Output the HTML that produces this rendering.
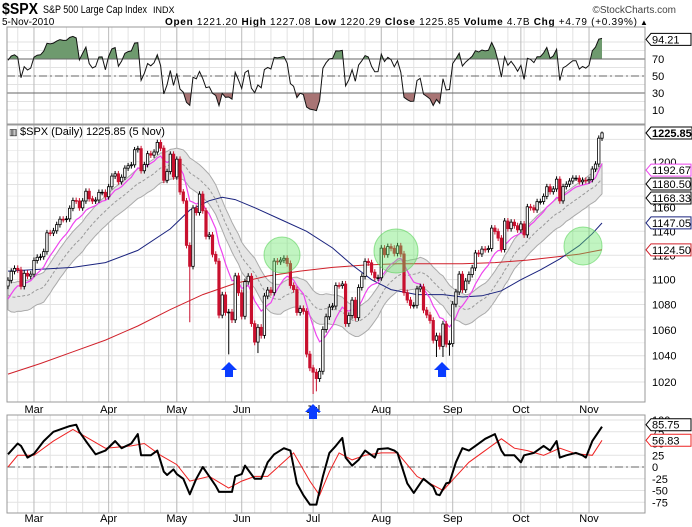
<!DOCTYPE html>
<html><head><meta charset="utf-8">
<style>
html,body{margin:0;padding:0;background:#fff;}
svg{display:block;font-family:"Liberation Sans",sans-serif;}
</style></head>
<body>
<svg id="chart" width="692" height="527" viewBox="0 0 692 527" xmlns="http://www.w3.org/2000/svg">
  <g>
    <text x="2" y="14" font-size="16" font-weight="bold" textLength="36" lengthAdjust="spacingAndGlyphs">$SPX</text>
    <text x="43" y="13" font-size="11" textLength="104" lengthAdjust="spacingAndGlyphs">S&amp;P 500 Large Cap Index</text>
    <text x="153" y="13" font-size="9">INDX</text>
    <text x="676" y="13" font-size="10" fill="#444" text-anchor="end">©StockCharts.com</text>
    <text x="2" y="25" font-size="10">5-Nov-2010</text>
    <text x="165" y="25" font-size="10" textLength="472" lengthAdjust="spacing"><tspan font-weight="bold">Open</tspan> 1221.20 <tspan font-weight="bold">High</tspan> 1227.08 <tspan font-weight="bold">Low</tspan> 1220.29 <tspan font-weight="bold">Close</tspan> 1225.85 <tspan font-weight="bold">Volume</tspan> 4.7B <tspan font-weight="bold">Chg</tspan> +4.79 (+0.39%)</text>
    <text x="640" y="25" font-size="8">▲</text>
  </g>
  <g id="rsiG"></g>
  <g id="mainG"></g>
  <g id="lowG"></g>
</svg>
<script>
// ---------- DATA ----------
const warmCloses = [1150.2,1138.0,1116.5,1091.8,1096.8,1092.2,1097.5,1084.5,1073.9,1089.2,1103.3,1097.3,1063.1,1066.2,1056.7,1070.5,1068.1,1078.5,1075.5,1094.9];
const monthDays = [
  ["2010-02",[17,18,19,22,23,24,25,26]],
  ["2010-03",[1,2,3,4,5,8,9,10,11,12,15,16,17,18,19,22,23,24,25,26,29,30,31]],
  ["2010-04",[1,5,6,7,8,9,12,13,14,15,16,19,20,21,22,23,26,27,28,29,30]],
  ["2010-05",[3,4,5,6,7,10,11,12,13,14,17,18,19,20,21,24,25,26,27,28]],
  ["2010-06",[1,2,3,4,7,8,9,10,11,14,15,16,17,18,21,22,23,24,25,28,29,30]],
  ["2010-07",[1,2,6,7,8,9,12,13,14,15,16,19,20,21,22,23,26,27,28,29,30]],
  ["2010-08",[2,3,4,5,6,9,10,11,12,13,16,17,18,19,20,23,24,25,26,27,30,31]],
  ["2010-09",[1,2,3,7,8,9,10,13,14,15,16,17,20,21,22,23,24,27,28,29,30]],
  ["2010-10",[1,4,5,6,7,8,11,12,13,14,15,18,19,20,21,22,25,26,27,28,29]],
  ["2010-11",[1,2,3,4,5]]
];
const closes = [1099.5,1106.8,1109.2,1108.0,1094.6,1105.2,1102.9,1104.5,
 1115.7,1118.3,1118.8,1123.0,1138.7,1138.5,1140.4,1145.6,1150.2,1150.0,1150.5,1159.5,1166.2,1165.8,1159.9,1165.8,1174.2,1167.7,1165.7,1166.6,1173.2,1173.3,1169.4,
 1178.1,1187.4,1189.4,1182.4,1186.4,1194.4,1196.5,1197.3,1210.7,1211.7,1192.1,1197.5,1207.2,1205.9,1208.7,1217.3,1212.1,1183.7,1191.4,1206.8,1186.7,
 1202.3,1173.6,1165.9,1128.2,1110.9,1159.7,1155.8,1171.7,1157.4,1135.7,1136.9,1120.8,1115.1,1071.6,1087.7,1073.7,1074.0,1067.9,1103.1,1089.4,
 1070.7,1098.4,1102.8,1064.9,1050.5,1062.0,1055.7,1086.8,1091.6,1089.6,1115.2,1114.6,1116.0,1117.5,1113.2,1095.3,1092.0,1073.7,1076.8,1074.6,1041.2,1030.7,
 1027.4,1022.6,1028.1,1060.3,1070.3,1078.0,1078.8,1095.3,1095.2,1096.5,1064.9,1071.3,1083.5,1069.6,1093.7,1102.7,1115.0,1113.8,1106.1,1101.5,1101.6,
 1125.9,1120.5,1127.2,1125.8,1121.6,1127.8,1121.1,1089.5,1083.6,1079.3,1079.4,1092.5,1094.2,1075.6,1071.7,1067.4,1051.9,1055.3,1047.2,1064.6,1048.9,1049.3,
 1080.3,1090.1,1104.5,1091.8,1098.9,1104.2,1109.6,1121.9,1121.1,1125.1,1124.7,1125.6,1142.7,1139.8,1134.3,1124.8,1148.7,1142.2,1147.7,1144.7,1141.2,
 1146.2,1137.0,1160.8,1160.0,1158.1,1165.2,1165.3,1169.8,1178.1,1173.8,1176.2,1184.7,1165.9,1178.2,1180.3,1183.1,1185.6,1185.6,1182.4,1183.8,1183.3,
 1184.4,1193.6,1198.0,1221.1,1225.85];
const wickLows = [[56,1066],[68,1041],[77,1042],[94,1011],[95,1013],[132,1039],[134,1039],[136,1040]];
const wickHighs = [[94,1033],[183,1227.1]];
const sma50 = [[0,1107],[20,1110],[30,1114],[40,1124],[50,1142],[56,1158],[62,1166],[66,1169],[70,1167],[76,1160],[84,1150],[92,1140],[100,1126],[106,1112],[112,1100],[118,1092],[126,1088],[134,1088],[140,1086],[146,1087],[152,1091],[158,1100],[164,1108],[170,1117],[176,1128],[180,1138],[183,1147]];
const sma200 = [[0,1026],[10,1034],[20,1043],[30,1052],[40,1063],[50,1076],[60,1088],[70,1097],[80,1103],[90,1107],[100,1110],[110,1112],[120,1113],[130,1113],[140,1113],[150,1114],[160,1116],[170,1119],[176,1121],[183,1124.5]];
const oscLine = [[0,27],[3,50],[4,45],[6,20],[8,28],[11,55],[14,75],[19,87],[21,90],[22,75],[24,55],[27,27],[30,35],[33,55],[35,40],[38,50],[40,70],[41,25],[44,25],[46,35],[48,-10],[49,-17],[51,-5],[52,-15],[54,-25],[56,-58],[58,-25],[60,0],[62,-20],[64,-40],[65,-53],[69,-53],[70,-20],[72,-15],[73,3],[76,-25],[78,-25],[80,10],[82,27],[85,40],[87,35],[89,-35],[91,-60],[93,-80],[95,-80],[97,-20],[99,30],[101,45],[103,62],[104,20],[106,3],[108,15],[110,35],[113,20],[114,38],[117,40],[119,35],[120,30],[123,-35],[125,-55],[127,-35],[128,-25],[131,-42],[132,-58],[133,-60],[135,-35],[136,-33],[138,10],[140,40],[142,35],[144,45],[147,60],[150,70],[152,35],[153,25],[156,25],[158,10],[159,25],[162,30],[165,45],[167,35],[169,55],[170,20],[172,25],[175,30],[177,25],[178,20],[180,55],[183,85.75]];
const oscSignal = [[0,0],[3,25],[8,25],[14,55],[20,80],[25,60],[30,40],[38,45],[42,50],[47,25],[52,5],[56,-30],[62,-20],[68,-45],[72,-30],[76,-20],[80,-20],[88,30],[93,-30],[96,-60],[99,-10],[102,30],[106,15],[110,25],[115,30],[120,30],[126,-20],[130,-35],[134,-50],[138,-20],[142,10],[148,40],[152,60],[156,40],[160,35],[165,25],[170,40],[175,28],[180,25],[183,56.83]];
const priceTicks = [1020,1040,1060,1080,1100,1120,1140,1160,1180,1200,1220];
const rsiTicks = [10,30,50,70,90];
const oscTicks = [-75,-50,-25,0,25,50,75,100];
const monthNames = ["Mar","Apr","May","Jun","Jul","Aug","Sep","Oct","Nov"];
const RSI_N = 5;

// ---------- GEOMETRY ----------
const NS="http://www.w3.org/2000/svg";
const L=7,R=645;
const X0=8,DX=3.246;
function xi(i){return X0+i*DX;}
const MT=125,MB=402;
function py(v){return 382-1355*Math.log(v/1020);}
const RT=27,RB=124;
function ry(v){return 118.5-0.85*v;}
const OT=415,OB=513;
function oy(v){return 467-0.47*v;}
function el(tag,attrs,parent){const e=document.createElementNS(NS,tag);for(const k in attrs)e.setAttribute(k,attrs[k]);parent.appendChild(e);return e;}
function txt(s,x,y,attrs,parent){const t=el('text',Object.assign({x:x,y:y},attrs),parent);t.textContent=s;return t;}
function knotPath(arr,fx,fy){return arr.map((p,k)=>(k?'L':'M')+fx(p[0]).toFixed(1)+','+fy(p[1]).toFixed(1)).join(' ');}

const dates=[];monthDays.forEach(m=>m[1].forEach(d=>dates.push(m[0]+'-'+String(d).padStart(2,'0'))));
const monthStart=[],mondays=[];
dates.forEach((d,i)=>{const dt=new Date(d+'T12:00:00Z');if(i>0&&d.slice(5,7)!==dates[i-1].slice(5,7))monthStart.push(i);if(dt.getUTCDay()===1)mondays.push(i);});

function vgrid(g,top,bot){
  mondays.forEach(i=>{const l=el('line',{x1:xi(i),x2:xi(i),y1:top,y2:bot,stroke:'#e2e2e2','stroke-width':1},g);
    });
  monthStart.forEach(i=>{const l=el('line',{x1:xi(i),x2:xi(i),y1:top,y2:bot,stroke:'#bbb','stroke-width':1},g);
    });
}
function tag(g,label,y,color,bold,name){
  const w=bold?41:40;const p=el('polygon',{points:`646,${y} 651,${y-6} ${651+w},${y-6} ${651+w},${y+6} 651,${y+6}`,fill:'#fff',stroke:color,'stroke-width':1},g);
  
  const t=txt(label,652,y+4,{'font-size':11,'font-weight':bold?'bold':'normal',fill:'#000'},g);
  
}

const all=warmCloses.concat(closes);const W0=warmCloses.length;

// ---------- RSI PANEL ----------
(function(){
  const g=document.getElementById('rsiG');
  for(let v=10;v<=90;v+=10){const l=el('line',{x1:L,x2:R,y1:ry(v),y2:ry(v),stroke:'#e2e2e2'},g);}
  vgrid(g,RT,RB);
  let ag=0,al=0;const rsi=[];const N=RSI_N;
  for(let i=1;i<all.length;i++){const d=all[i]-all[i-1];const gn=Math.max(d,0),ls=Math.max(-d,0);
    if(i<=N){ag+=gn/N;al+=ls/N;}else{ag=(ag*(N-1)+gn)/N;al=(al*(N-1)+ls)/N;}
    if(i>=W0)rsi.push(100-100/(1+ag/(al||1e-9)));}
  const pts=rsi.map((v,i)=>[xi(i),ry(v)]);
  const dLine='M'+pts.map(p=>p[0].toFixed(1)+','+p[1].toFixed(1)).join(' L');
  const defs=el('defs',{},g);
  const c1=el('clipPath',{id:'above70'},defs);el('rect',{x:L,y:RT,width:R-L,height:ry(70)-RT},c1);
  const c2=el('clipPath',{id:'below30'},defs);el('rect',{x:L,y:ry(30),width:R-L,height:RB-ry(30)},c2);
  const a1=el('path',{d:dLine+` L${pts[pts.length-1][0]},${ry(70)} L${pts[0][0]},${ry(70)} Z`,fill:'#6e9a6e','clip-path':'url(#above70)'},g);
  
  const a2=el('path',{d:dLine+` L${pts[pts.length-1][0]},${ry(30)} L${pts[0][0]},${ry(30)} Z`,fill:'#a87474','clip-path':'url(#below30)'},g);
  
  [[70,'none'],[30,'none'],[50,'8,3,2,3']].forEach(a=>{const l=el('line',{x1:L,x2:R,y1:ry(a[0]),y2:ry(a[0]),stroke:'#666','stroke-width':1,'stroke-dasharray':a[1]},g);
    });
  const ln=el('path',{d:dLine,fill:'none',stroke:'#111','stroke-width':1},g);
  
  const b=el('rect',{x:L,y:RT,width:R-L,height:RB-RT,fill:'none',stroke:'#999'},g);
  
  rsiTicks.forEach(v=>{if(v===90)return;const t=txt(String(v),652,ry(v)+4,{'font-size':11},g);});
  tag(g,'94.21',ry(94.21)+1,'#000',false,'rsi-last');
})();

// ---------- PRICE PANEL ----------
(function(){
  const g=document.getElementById('mainG');
  priceTicks.forEach(v=>{const l=el('line',{x1:L,x2:R,y1:py(v),y2:py(v),stroke:'#e2e2e2'},g);});
  for(let v=1030;v<1230;v+=20){const l=el('line',{x1:L,x2:R,y1:py(v),y2:py(v),stroke:'#efefef'},g);}
  vgrid(g,MT,MB);
  const mid=[],up=[],dn=[];
  for(let i=0;i<closes.length;i++){let s=0;for(let k=0;k<20;k++)s+=all[W0+i-k];const m=s/20;mid.push(m);up.push(m*1.011);dn.push(m*0.989);}
  const upPts=up.map((v,i)=>xi(i).toFixed(1)+','+py(v).toFixed(1));
  const dnPts=dn.map((v,i)=>xi(i).toFixed(1)+','+py(v).toFixed(1)).reverse();
  const band=el('polygon',{points:upPts.concat(dnPts).join(' '),fill:'#e6e6e6',stroke:'#aaa','stroke-width':1},g);
  
  const md=el('polyline',{points:mid.map((v,i)=>xi(i).toFixed(1)+','+py(v).toFixed(1)).join(' '),fill:'none',stroke:'#999','stroke-dasharray':'3,2'},g);
  
  const s2=el('path',{d:knotPath(sma200,xi,py),fill:'none',stroke:'#d0202a','stroke-width':1},g);
  
  const s5=el('path',{d:knotPath(sma50,xi,py),fill:'none',stroke:'#1a237e','stroke-width':1},g);
  
  let e=all[0];const ema=[];const k=2/11;
  for(let i=1;i<all.length;i++){e=all[i]*k+e*(1-k);if(i>=W0)ema.push(e);}
  const em=el('polyline',{points:ema.map((v,i)=>xi(i).toFixed(1)+','+py(v).toFixed(1)).join(' '),fill:'none',stroke:'#ee44ee','stroke-width':1.2},g);
  
  const lowMap={},highMap={};wickLows.forEach(p=>lowMap[p[0]]=p[1]);wickHighs.forEach(p=>highMap[p[0]]=p[1]);
  for(let i=0;i<closes.length;i++){
    const o=all[W0+i-1],c=closes[i];const upc=c>=o;
    const hi=highMap[i]!==undefined?highMap[i]:Math.max(o,c)+2.5;
    const lo=lowMap[i]!==undefined?lowMap[i]:Math.min(o,c)-2.5;
    const col=upc?'#000':'#c8102e';const x=xi(i);
    const cg=el('g',{},g);
    
    
    el('line',{x1:x,x2:x,y1:py(hi),y2:py(lo),stroke:col,'stroke-width':1},cg);
    const top=py(Math.max(o,c)),bot=py(Math.min(o,c));
    el('rect',{x:x-1.2,y:top,width:2.4,height:Math.max(bot-top,0.8),fill:upc?'#fff':col,stroke:col,'stroke-width':0.8},cg);
  }
  [[282,255,18],[396,251,22],[583,246,19]].forEach(c=>{const ci=el('circle',{cx:c[0],cy:c[1],r:c[2],fill:'rgba(100,230,100,0.4)',stroke:'rgba(90,210,90,0.6)'},g);
    });
  [[229,370],[313,412],[442,370]].forEach(a=>{const x=a[0],y=a[1];
    const ar=el('polygon',{points:`${x},${y-8} ${x+8},${y} ${x+4},${y} ${x+4},${y+7} ${x-4},${y+7} ${x-4},${y} ${x-8},${y}`,fill:'#0a3cff'},document.getElementById('chart'));
    });
  const b=el('rect',{x:L,y:MT,width:R-L,height:MB-MT,fill:'none',stroke:'#999'},g);
  
  priceTicks.forEach(v=>{if(v===1220)return;const t=txt(String(v),652,py(v)+4,{'font-size':11},g);});
  const lab=txt('$SPX (Daily) 1225.85 (5 Nov)',20,135,{'font-size':11},g);
  const ic=txt('▥',9,135,{'font-size':9},g);
  tag(g,'1124.50',py(1124.5),'#d0202a',false,'sma200');
  tag(g,'1147.05',py(1147.05),'#1a237e',false,'sma50');
  tag(g,'1168.33',py(1168.33),'#000',false,'sma20');
  tag(g,'1180.50',py(1180.5),'#000',false,'upper-band');
  tag(g,'1192.67',py(1192.67),'#ee44ee',false,'ema10');
  tag(g,'1225.85',133,'#000',true,'last-close');
  monthStart.forEach((i,k)=>{const t=txt(monthNames[k],xi(i),413,{'font-size':11,'text-anchor':'middle'},g);});
})();

// ---------- OSCILLATOR PANEL ----------
(function(){
  const g=document.getElementById('lowG');
  oscTicks.forEach(v=>{const l=el('line',{x1:L,x2:R,y1:oy(v),y2:oy(v),stroke:'#e2e2e2'},g);});
  vgrid(g,OT,OB);
  const z=el('line',{x1:L,x2:R,y1:oy(0),y2:oy(0),stroke:'#666','stroke-dasharray':'8,3,2,3'},g);
  
  const sg=el('path',{d:knotPath(oscSignal,xi,oy),fill:'none',stroke:'#ee2222','stroke-width':1},g);
  
  const ln=el('path',{d:knotPath(oscLine,xi,oy),fill:'none',stroke:'#000','stroke-width':2,'stroke-linejoin':'round'},g);
  
  const b=el('rect',{x:L,y:OT,width:R-L,height:OB-OT,fill:'none',stroke:'#999'},g);
  
  oscTicks.forEach(v=>{const t=txt(String(v),652,oy(v)+4,{'font-size':11},g);});
  tag(g,'85.75',oy(85.75)-2,'#000',false,'osc-last');
  tag(g,'56.83',oy(56.83),'#ee2222',false,'osc-signal-last');
  monthStart.forEach((i,k)=>{const t=txt(monthNames[k],xi(i),522,{'font-size':11,'text-anchor':'middle'},g);});
})();
</script>
</body></html>
